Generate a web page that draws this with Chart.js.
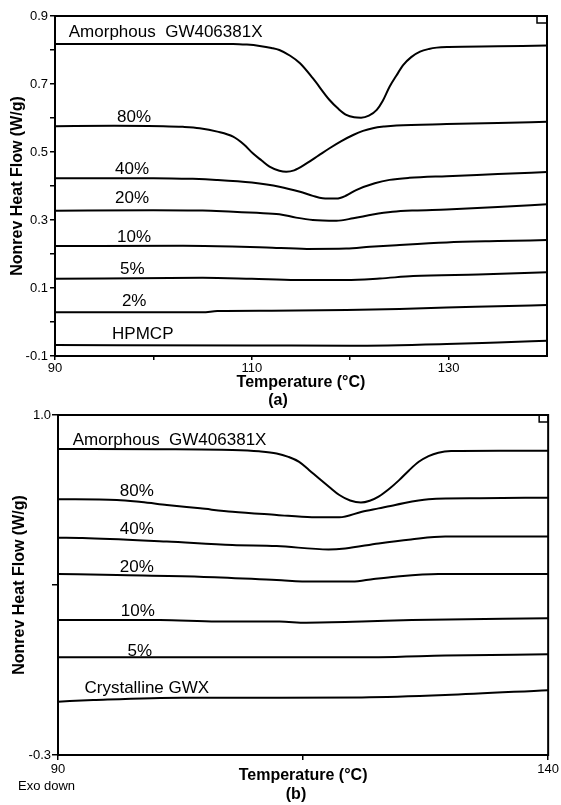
<!DOCTYPE html>
<html><head><meta charset="utf-8">
<script src="https://cdn.jsdelivr.net/npm/chart.js@4/dist/chart.umd.min.js"></script>
<style>
html,body{margin:0;padding:0;background:#fff;width:561px;height:805px;overflow:hidden}
canvas{position:absolute;left:0}
#ca{top:0}
#cb{top:406px}
</style></head><body>
<canvas id="ca" width="561" height="410"></canvas>
<canvas id="cb" width="561" height="399"></canvas>
<script>
const FONT = "'Liberation Sans', Arial, Helvetica, sans-serif";

// ---------- Panel (a) ----------
const aAmorphT = [90, 100, 106, 108.1, 109.5, 110.8, 112, 112.8, 113.9, 114.9, 116.2, 117.9, 118.8, 119.6, 120.4, 121.1, 121.9, 122.7, 123.3, 124.0, 124.7, 125.4, 126.2, 127.1, 128.0, 128.8, 130, 135, 140];
const aAmorphV = [0.818, 0.818, 0.818, 0.818, 0.816, 0.812, 0.806, 0.800, 0.783, 0.761, 0.717, 0.653, 0.627, 0.609, 0.602, 0.601, 0.607, 0.624, 0.650, 0.692, 0.725, 0.756, 0.779, 0.795, 0.803, 0.807, 0.809, 0.811, 0.813];
const a80T = [90, 96, 101, 103, 104.7, 106.5, 108.1, 109.2, 110.1, 111, 111.8, 112.8, 113.5, 114.3, 115.6, 116.8, 117.9, 119.1, 120.3, 121.3, 122.3, 123.5, 124.7, 129.8, 135, 140];
const a80V = [0.576, 0.577, 0.576, 0.574, 0.570, 0.560, 0.545, 0.522, 0.496, 0.475, 0.457, 0.445, 0.442, 0.446, 0.467, 0.490, 0.511, 0.532, 0.550, 0.562, 0.570, 0.575, 0.578, 0.582, 0.585, 0.589];
const a40T = [90, 100, 104, 106.4, 110, 112.8, 114.9, 116.2, 117.2, 118.6, 119.6, 120.6, 122.5, 124.0, 126, 129.8, 135, 140];
const a40V = [0.423, 0.423, 0.421, 0.418, 0.410, 0.398, 0.383, 0.371, 0.364, 0.363, 0.372, 0.388, 0.408, 0.418, 0.424, 0.429, 0.435, 0.441];
const a20T = [90, 100, 105, 108.1, 110.5, 112.8, 114.5, 116.2, 118.6, 120.3, 122.3, 124.3, 126.5, 129.8, 135, 140];
const a20V = [0.327, 0.329, 0.328, 0.324, 0.321, 0.317, 0.307, 0.300, 0.298, 0.305, 0.316, 0.324, 0.328, 0.331, 0.338, 0.346];
const a10T = [90, 103, 108, 111.5, 115.6, 119.6, 122, 124.7, 129.8, 135, 140];
const a10V = [0.2235, 0.224, 0.222, 0.219, 0.215, 0.216, 0.221, 0.226, 0.234, 0.238, 0.241];
const a5T = [90, 105, 110, 114.5, 119.6, 123, 126.4, 133, 140];
const a5V = [0.127, 0.130, 0.127, 0.1235, 0.1235, 0.128, 0.135, 0.140, 0.146];
const a2T = [90, 105, 106.5, 112, 119.6, 125, 129.8, 135, 140];
const a2V = [0.0285, 0.0285, 0.032, 0.033, 0.035, 0.038, 0.043, 0.046, 0.050];
const aHpT = [90, 110, 120, 129.8, 135, 140];
const aHpV = [-0.068, -0.069, -0.070, -0.065, -0.060, -0.055];

const aNames = ['Amorphous  GW406381X', '80%', '40%', '20%', '10%', '5%', '2%', 'HPMCP'];
const aXTicks = [90, 100, 110, 120, 130];
const aXTickLabels = ['90', '', '110', '', '130'];
const aYTicks = [-0.1, 0, 0.1, 0.2, 0.3, 0.4, 0.5, 0.6, 0.7, 0.8, 0.9];
const aYTickLabels = ['-0.1', '', '0.1', '', '0.3', '', '0.5', '', '0.7', '', '0.9'];

// ---------- Panel (b) ----------
const bAmorphT = [90, 100, 107.8, 110.5, 112.3, 113.5, 114.6, 115.6, 116.6, 117.7, 118.7, 119.8, 120.9, 121.8, 122.7, 123.8, 124.8, 125.8, 126.8, 127.8, 128.8, 130.1, 135, 140];
const bAmorphV = [0.870, 0.869, 0.866, 0.861, 0.853, 0.840, 0.821, 0.790, 0.758, 0.724, 0.694, 0.673, 0.665, 0.672, 0.688, 0.718, 0.751, 0.788, 0.821, 0.843, 0.856, 0.862, 0.863, 0.863];
const b80T = [90, 96, 98.5, 101.1, 104.5, 107.8, 112.3, 115.9, 118.7, 121.0, 122.7, 124.4, 127.8, 133, 140];
const b80V = [0.678, 0.675, 0.667, 0.656, 0.643, 0.630, 0.618, 0.609, 0.609, 0.630, 0.643, 0.656, 0.678, 0.682, 0.684];
const b40T = [90, 92.5, 101.1, 107.8, 112.3, 117.6, 119.3, 122.7, 126, 129.5, 135, 140];
const b40V = [0.531, 0.530, 0.516, 0.503, 0.499, 0.486, 0.490, 0.509, 0.524, 0.535, 0.535, 0.535];
const b20T = [90, 96, 104.4, 112.3, 115.9, 120, 122.2, 124.4, 128.8, 140];
const b20V = [0.392, 0.388, 0.382, 0.369, 0.363, 0.363, 0.373, 0.382, 0.392, 0.392];
const b10T = [90, 100.4, 106.2, 112.6, 115.3, 121, 126.1, 140];
const b10V = [0.216, 0.216, 0.210, 0.210, 0.206, 0.210, 0.216, 0.223];
const b5T = [90, 110, 122.7, 129.5, 140];
const b5V = [0.074, 0.074, 0.074, 0.080, 0.085];
const bCrT = [90, 93.6, 102.7, 112.6, 121, 129.5, 140];
const bCrV = [-0.096, -0.090, -0.081, -0.081, -0.080, -0.071, -0.052];

const bNames = ['Amorphous  GW406381X', '80%', '40%', '20%', '10%', '5%', 'Crystalline GWX'];
const bXTicks = [90, 115, 140];
const bXTickLabels = ['90', '', '140'];
const bYTicks = [-0.3, 0.35, 1.0];
const bYTickLabels = ['-0.3', '', '1.0'];

// label anchor points (data coordinates: temperature, heat flow)
const aLabelAt = [[91.4, 0.853], [96.3, 0.603], [96.1, 0.450], [96.1, 0.365], [96.3, 0.250], [96.6, 0.156], [96.8, 0.062], [95.8, -0.035]];
const bLabelAt = [[91.5, 0.904], [96.3, 0.709], [96.3, 0.564], [96.3, 0.419], [96.4, 0.251], [97.1, 0.098], [92.7, -0.044]];

const pts = (T, V) => T.map((t, i) => ({ x: t, y: V[i] }));
const ds = (T, V) => ({ data: pts(T, V), borderColor: '#000', borderWidth: 2, pointRadius: 0, fill: false, cubicInterpolationMode: 'monotone' });

const decor = {
  id: 'decor',
  afterDraw(chart, args, o) {
    const { ctx, chartArea: a, scales } = chart;
    ctx.save();
    ctx.strokeStyle = '#000';
    ctx.lineWidth = 2;
    ctx.strokeRect(a.left, a.top, a.right - a.left, a.bottom - a.top);
    ctx.lineWidth = 1.5;
    ctx.strokeRect(a.right - o.box[0], a.top, o.box[0], o.box[1]);
    ctx.fillStyle = '#000';
    ctx.textBaseline = 'middle';
    ctx.textAlign = 'left';
    ctx.font = '17px ' + FONT;
    o.names.forEach((n, i) => {
      const p = o.at[i];
      ctx.fillText(n, scales.x.getPixelForValue(p[0]), scales.y.getPixelForValue(p[1]));
    });
    o.extra.forEach(e => {
      ctx.font = e.font; ctx.textAlign = e.align;
      ctx.fillText(e.text, e.x, e.y);
    });
    ctx.restore();
  }
};

function axisX(ticks, labels, h, tl, pad, titlePad) {
  return {
    type: 'linear', min: 90, max: 140,
    afterBuildTicks: s => { s.ticks = ticks.map(v => ({ value: v })); },
    afterFit: s => { s.height = h; },
    ticks: { autoSkip: false, maxRotation: 0, minRotation: 0, padding: pad, color: '#000', font: { family: FONT, size: 13 }, callback: (v, i) => labels[i] },
    grid: { display: true, drawOnChartArea: false, drawTicks: true, tickLength: tl, color: '#000', lineWidth: 1.5 },
    border: { display: true, color: '#000', width: 2 },
    title: { display: true, text: 'Temperature (°C)', color: '#000', font: { family: FONT, size: 16, weight: 'bold' }, padding: { top: 0, bottom: titlePad } }
  };
}
function axisY(min, max, ticks, labels, w, tl, pad, titlePad) {
  return {
    type: 'linear', min: min, max: max,
    afterBuildTicks: s => { s.ticks = ticks.map(v => ({ value: v })); },
    afterFit: s => { s.width = w; },
    ticks: { autoSkip: false, padding: pad, color: '#000', font: { family: FONT, size: 13 }, callback: (v, i) => labels[i] },
    grid: { display: true, drawOnChartArea: false, drawTicks: true, tickLength: tl, color: '#000', lineWidth: 1.5 },
    border: { display: true, color: '#000', width: 2 },
    title: { display: true, text: 'Nonrev Heat Flow (W/g)', color: '#000', font: { family: FONT, size: 16, weight: 'bold' }, padding: { top: titlePad, bottom: 0 } }
  };
}

new Chart(document.getElementById('ca'), {
  type: 'line',
  data: { datasets: [ds(aAmorphT, aAmorphV), ds(a80T, a80V), ds(a40T, a40V), ds(a20T, a20V), ds(a10T, a10V), ds(a5T, a5V), ds(a2T, a2V), ds(aHpT, aHpV)] },
  options: {
    responsive: false, animation: false, devicePixelRatio: 1,
    layout: { padding: { top: 16, right: 14, left: 0, bottom: 0 }, autoPadding: false },
    scales: { x: axisX(aXTicks, aXTickLabels, 54, 4, 1, 17.4), y: axisY(-0.1, 0.9, aYTicks, aYTickLabels, 55, 5, 2, 8.4) },
    plugins: {
      legend: { display: false }, tooltip: { enabled: false },
      decor: { names: aNames, at: aLabelAt, box: [10, 7], extra: [
        { text: '(a)', x: 278, y: 401, font: 'bold 16px ' + FONT, align: 'center' }
      ] }
    }
  },
  plugins: [decor]
});

new Chart(document.getElementById('cb'), {
  type: 'line',
  data: { datasets: [ds(bAmorphT, bAmorphV), ds(b80T, b80V), ds(b40T, b40V), ds(b20T, b20V), ds(b10T, b10V), ds(b5T, b5V), ds(bCrT, bCrV)] },
  options: {
    responsive: false, animation: false, devicePixelRatio: 1,
    layout: { padding: { top: 9, right: 11, left: 0, bottom: 0 }, autoPadding: false },
    scales: { x: axisX(bXTicks, bXTickLabels, 50, 5, 2, 19.4), y: axisY(-0.3, 1.0, bYTicks, bYTickLabels, 58, 6, 1, 10.4) },
    plugins: {
      legend: { display: false }, tooltip: { enabled: false },
      decor: { names: bNames, at: bLabelAt, box: [9, 7], extra: [
        { text: '(b)', x: 296, y: 389, font: 'bold 16px ' + FONT, align: 'center' },
        { text: 'Exo down', x: 18, y: 380, font: '13px ' + FONT, align: 'left' }
      ] }
    }
  },
  plugins: [decor]
});
</script>
</body></html>
